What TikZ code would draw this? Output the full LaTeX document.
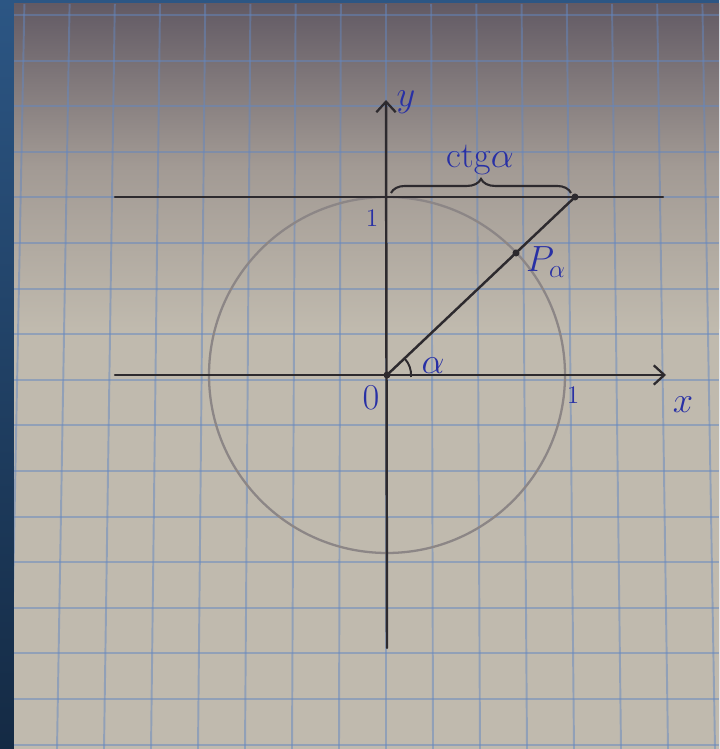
\documentclass[tikz,border=0pt]{standalone}
\usetikzlibrary{arrows.meta,decorations.pathreplacing}
\definecolor{paperc}{RGB}{192,186,174}
\definecolor{papermid}{RGB}{162,154,148}
\definecolor{papertop}{RGB}{98,90,100}
\definecolor{bordtop}{RGB}{44,86,132}
\definecolor{bordbot}{RGB}{20,42,68}
\definecolor{gridc}{RGB}{100,135,192}
\definecolor{inkc}{RGB}{45,42,46}
\definecolor{circc}{RGB}{140,134,134}
\definecolor{penc}{RGB}{40,48,165}
\tikzset{
  axisline/.style={draw=inkc, line width=1.4pt, line cap=round, -{Straight Barb[length=6pt,width=11pt,line width=1.3pt]}},
  plainline/.style={draw=inkc, line width=1.4pt, line cap=round},
  circline/.style={draw=circc, line width=1.3pt},
  gridline/.style={draw=gridc, draw opacity=0.5, line width=1.1pt},
  pen/.style={text=penc, inner sep=1pt, font=\fontsize{21}{23}\selectfont},
  pensmall/.style={text=penc, inner sep=1pt, font=\fontsize{15}{17}\selectfont},
  dotc/.style={circle, fill=inkc, inner sep=0pt, minimum size=4pt},
}
\begin{document}
\begin{tikzpicture}[x=0.02cm,y=0.02cm]
\useasboundingbox (0,0) rectangle (719,749);
% background
\shade[top color=bordtop, bottom color=bordbot] (0,0) rectangle (719,749);
\fill[paperc] (14,0) rectangle (719,745);
\shade[top color=papertop, bottom color=paperc, middle color=papermid] (14,420) rectangle (719,745);
% grid
\begin{scope}
\clip (14,0) rectangle (719,745);
\foreach \k in {-8,...,7} \draw[gridline] ({386+45.2*\k},745) -- ({386+47*\k},0);
\foreach \j in {0,...,16} \draw[gridline] (14,{734-45.6*\j}) -- (719,{734-45.6*\j});
\end{scope}
% coordinates
\coordinate (O) at (387,374);
\coordinate (xl) at (115,374);
\coordinate (xr) at (666,374);
\coordinate (yb) at (387,101);
\coordinate (yt) at (386,649);
\coordinate (tl) at (115,552);
\coordinate (tr) at (663,552);
\coordinate (T) at (575,552);
\coordinate (P) at (516,496);
\coordinate (bl) at (391,556);
\coordinate (br) at (571,556);
\coordinate (A0) at (411,372);
% circle
\draw[circline] (O) circle[radius=178];
% axes and lines
\draw[axisline] (xl) -- (xr);
\draw[axisline] (yb) -- (yt);
\draw[plainline] (tl) -- (tr);
\draw[plainline] (O) -- (T);
% angle arc
\draw[inkc, line width=1.1pt] (A0) arc[start angle=-5, end angle=43.4, radius=24];
% brace
\draw[inkc, line width=1.2pt, decorate, decoration={brace, amplitude=8pt}] (bl) -- (br);
% dots
\node[dotc] (dO) at (O) {};
\node[dotc] (dP) at (P) {};
\node[dotc] (dT) at (T) {};
% labels
\node[pen] (ly) at (406,647) {$y$};
\node[pen] (lx) at (683,344) {$x$};
\node[pen] (lO) at (371,351) {$0$};
\node[pensmall] (l1x) at (573,354) {$1$};
\node[pensmall] (l1y) at (372,531) {$1$};
\node[pen] (la) at (433,383) {$\alpha$};
\node[pen] (lP) at (546,487) {$P_\alpha$};
\node[pen] (lc) at (480,589) {$\mathrm{ctg}\alpha$};
\end{tikzpicture}
\end{document}
